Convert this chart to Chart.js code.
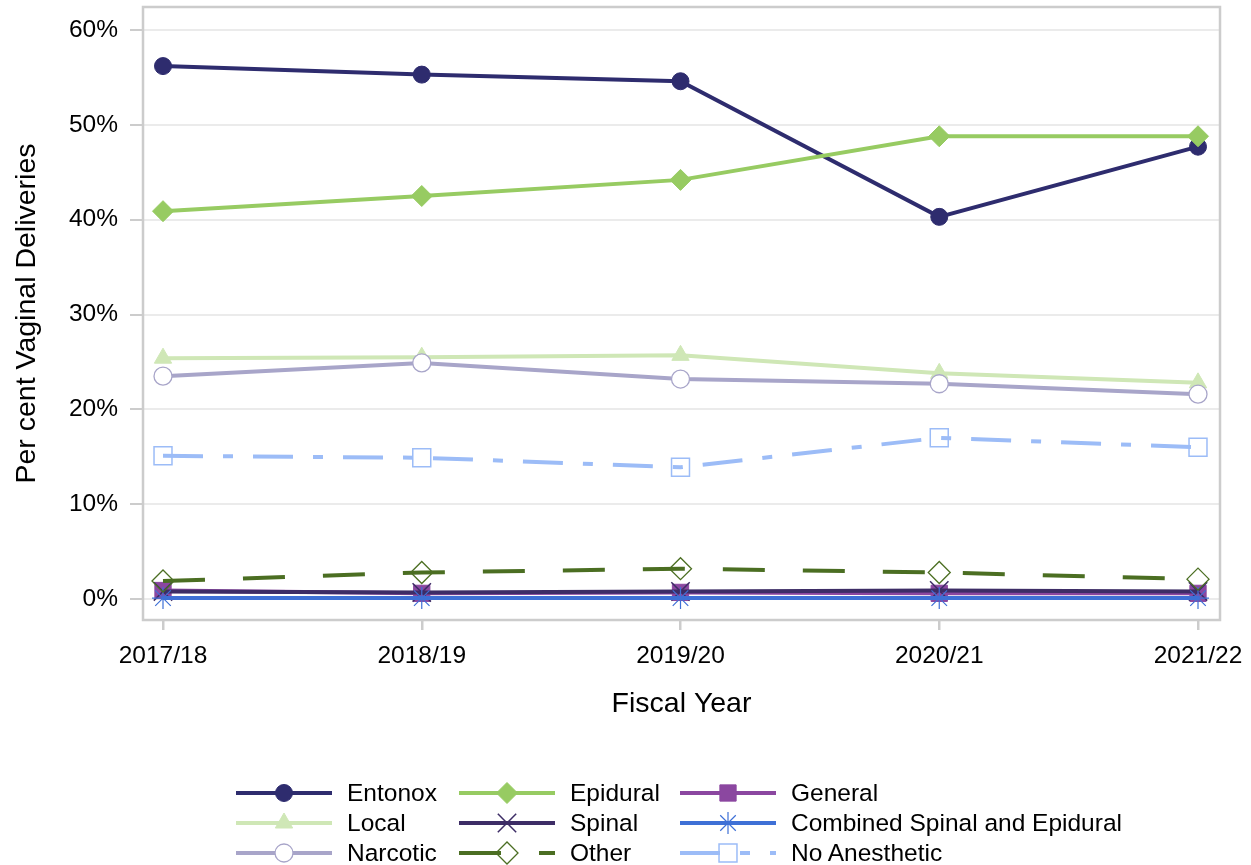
<!DOCTYPE html>
<html>
<head>
<meta charset="utf-8">
<script src="https://cdn.jsdelivr.net/npm/chart.js@4.4.1/dist/chart.umd.min.js"></script>
<style>
  html, body { margin: 0; padding: 0; background: #fff; }
  #wrap { position: relative; width: 1251px; height: 865px; }
  #chart { position: absolute; left: 0; top: 0; }
  .leg { position: absolute; height: 30px; display: flex; align-items: center;
         font-family: "Liberation Sans", Arial, sans-serif; font-size: 24.5px; color: #000; white-space: nowrap; }
  .leg canvas { margin-right: 15px; }
</style>
</head>
<body>
<div id="wrap">
  <canvas id="chart" width="1251" height="865"></canvas>
  <div id="legend"></div>
</div>
<script>
const years = ['2017/18', '2018/19', '2019/20', '2020/21', '2021/22'];
const entonox = [56.2, 55.3, 54.6, 40.3, 47.7];
const epidural = [40.9, 42.5, 44.2, 48.8, 48.8];
const general = [0.9, 0.6, 0.7, 0.6, 0.6];
const local = [25.4, 25.5, 25.7, 23.8, 22.8];
const spinal = [0.8, 0.7, 0.8, 0.9, 0.8];
const combined = [0.1, 0.1, 0.1, 0.1, 0.1];
const narcotic = [23.5, 24.9, 23.2, 22.7, 21.6];
const other = [1.9, 2.8, 3.2, 2.8, 2.1];
const noAnesthetic = [15.1, 14.9, 13.9, 17.0, 16.0];
const yTicks = [0, 10, 20, 30, 40, 50, 60];

const FONT = '"Liberation Sans", Arial, sans-serif';
const CLEAR = 'rgba(0,0,0,0)';

// legend order (row by row, 3 columns)
const series = [
  { label: 'Entonox', values: entonox, color: '#2e2c6e', point: 'circle', radius: 8.5, fill: '#2e2c6e', pbw: 1 },
  { label: 'Epidural', values: epidural, color: '#97cb62', point: 'rectRot', radius: 10.5, fill: '#97cb62', pbw: 1 },
  { label: 'General', values: general, color: '#8b47a0', point: 'rect', radius: 11.5, fill: '#8b47a0', pbw: 1 },
  { label: 'Local', values: local, color: '#cfe7b6', point: 'triangle', radius: 10, fill: '#cfe7b6', pbw: 1 },
  { label: 'Spinal', values: spinal, color: '#3d2d66', point: 'crossRot', radius: 13, fill: CLEAR, pbw: 1.5 },
  { label: 'Combined Spinal and Epidural', values: combined, color: '#3e70d6', point: 'star', radius: 11, fill: CLEAR, pbw: 1.2 },
  { label: 'Narcotic', values: narcotic, color: '#a8a5c9', point: 'circle', radius: 9, fill: '#ffffff', pbw: 1.3 },
  { label: 'Other', values: other, color: '#4b6e22', point: 'rectRot', radius: 11, fill: CLEAR, pbw: 1.3, dash: [42, 38] },
  { label: 'No Anesthetic', values: noAnesthetic, color: '#9cbcf7', point: 'rect', radius: 12.7, fill: CLEAR, pbw: 1.5, dash: [40, 20, 10, 20] },
];

const frame = {
  id: 'frame',
  beforeDatasetsDraw(chart) {
    const a = chart.chartArea, c = chart.ctx;
    c.save();
    c.strokeStyle = '#cccccc';
    c.lineWidth = 2.5;
    c.strokeRect(a.left, a.top, a.right - a.left, a.bottom - a.top);
    c.restore();
  }
};

const chart = new Chart(document.getElementById('chart'), {
  type: 'line',
  data: {
    datasets: series.map((s, i) => ({
      label: s.label,
      data: s.values.map((v, j) => ({ x: j, y: v })),
      borderColor: s.color,
      backgroundColor: s.fill,
      borderWidth: 4,
      borderDash: s.dash || [],
      fill: false,
      tension: 0,
      pointStyle: s.point,
      pointRadius: s.radius,
      pointHoverRadius: s.radius,
      pointBorderColor: s.color,
      pointBackgroundColor: s.fill,
      pointBorderWidth: s.pbw,
      order: series.length - i,
      clip: false,
    })),
  },
  options: {
    responsive: false,
    animation: false,
    devicePixelRatio: 1,
    layout: { autoPadding: false, padding: { top: 7, right: 31, left: 0, bottom: 0 } },
    plugins: { legend: { display: false }, tooltip: { enabled: false } },
    scales: {
      x: {
        type: 'linear',
        min: -0.0773,
        max: 4.085,
        afterBuildTicks: (s) => { s.ticks = years.map((_, i) => ({ value: i })); },
        afterFit: (s) => { s.height = 245; s.paddingLeft = 0; s.paddingRight = 0; },
        border: { display: false },
        grid: { drawOnChartArea: false, tickLength: 10, tickColor: '#cccccc', lineWidth: 2.5 },
        ticks: {
          callback: (v) => years[v],
          font: { size: 24.5, family: FONT },
          color: '#000',
          padding: 12,
          maxRotation: 0,
          autoSkip: false,
        },
        title: {
          display: true,
          text: 'Fiscal Year',
          font: { size: 28.5, family: FONT },
          color: '#000',
          padding: { top: 0, bottom: 144 },
        },
      },
      y: {
        min: -2.21,
        max: 62.43,
        afterBuildTicks: (s) => { s.ticks = yTicks.map((v) => ({ value: v })); },
        afterFit: (s) => { s.width = 143; s.paddingTop = 0; s.paddingBottom = 0; },
        border: { display: false },
        grid: { color: '#ebebeb', lineWidth: 2, tickColor: '#cccccc', tickLength: 13 },
        ticks: {
          callback: (v) => v + '%',
          font: { size: 24.5, family: FONT },
          color: '#000',
          padding: 12,
        },
        title: {
          display: true,
          text: 'Per cent Vaginal Deliveries',
          font: { size: 28.5, family: FONT },
          color: '#000',
          padding: { top: 10, bottom: 0 },
        },
      },
    },
  },
  plugins: [frame],
});

// legend: line sample with marker, then label
const drawMarker = (ctx, s, x, y) => {
  const r = s.radius;
  ctx.save();
  ctx.setLineDash([]);
  ctx.strokeStyle = s.color;
  ctx.fillStyle = s.fill;
  ctx.lineWidth = s.pbw;
  ctx.beginPath();
  if (s.point === 'circle') {
    ctx.arc(x, y, r, 0, Math.PI * 2);
  } else if (s.point === 'rectRot') {
    ctx.moveTo(x - r, y); ctx.lineTo(x, y - r); ctx.lineTo(x + r, y); ctx.lineTo(x, y + r); ctx.closePath();
  } else if (s.point === 'rect') {
    const h = r * Math.SQRT1_2;
    ctx.rect(x - h, y - h, 2 * h, 2 * h);
  } else if (s.point === 'triangle') {
    ctx.moveTo(x, y - r);
    ctx.lineTo(x + r * Math.sin(Math.PI * 2 / 3), y - r * Math.cos(Math.PI * 2 / 3));
    ctx.lineTo(x - r * Math.sin(Math.PI * 2 / 3), y - r * Math.cos(Math.PI * 2 / 3));
    ctx.closePath();
  } else if (s.point === 'crossRot') {
    const h = r * Math.SQRT1_2;
    ctx.moveTo(x - h, y - h); ctx.lineTo(x + h, y + h);
    ctx.moveTo(x + h, y - h); ctx.lineTo(x - h, y + h);
  } else if (s.point === 'star') {
    const h = r * Math.SQRT1_2;
    ctx.moveTo(x - h, y - h); ctx.lineTo(x + h, y + h);
    ctx.moveTo(x + h, y - h); ctx.lineTo(x - h, y + h);
    ctx.moveTo(x, y - r); ctx.lineTo(x, y + r);
    ctx.moveTo(x - r, y); ctx.lineTo(x + r, y);
  }
  if (s.fill !== CLEAR) ctx.fill();
  ctx.stroke();
  ctx.restore();
};

const legendEl = document.getElementById('legend');
const colX = [236, 459, 680];
const rowY = [793, 823, 853];
series.forEach((s, i) => {
  const item = document.createElement('div');
  item.className = 'leg';
  item.style.left = colX[i % 3] + 'px';
  item.style.top = (rowY[Math.floor(i / 3)] - 15) + 'px';
  const cv = document.createElement('canvas');
  cv.width = 96;
  cv.height = 30;
  const ctx = cv.getContext('2d');
  ctx.strokeStyle = s.color;
  ctx.lineWidth = 4;
  ctx.setLineDash(s.dash || []);
  ctx.beginPath();
  ctx.moveTo(0, 15);
  ctx.lineTo(96, 15);
  ctx.stroke();
  drawMarker(ctx, s, 48, 15);
  item.appendChild(cv);
  const txt = document.createElement('span');
  txt.textContent = s.label;
  item.appendChild(txt);
  legendEl.appendChild(item);
});
</script>
</body>
</html>
